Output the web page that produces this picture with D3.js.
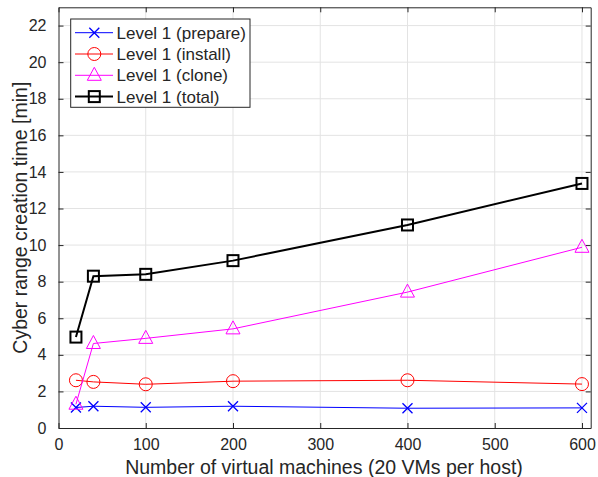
<!DOCTYPE html>
<html lang="en">
  <head>
    <script src="https://d3js.org/d3.v7.min.js"></script>
    <meta charset="utf-8">
    <style>
      body { margin: 0; background: #fff; }
      text { font-family: "Liberation Sans", Arial, sans-serif; fill: #262626; }
    </style>
  </head>
  <body>
    <svg id="chart" width="598" height="477"></svg>
  </body>
</html>

<script>
    // data
    const vms = [20, 40, 100, 200, 400, 600];
    const prepare = [1.12, 1.19, 1.13, 1.19, 1.08, 1.1];
    const install = [2.61, 2.52, 2.39, 2.56, 2.61, 2.4];
    const clone = [1.3, 4.62, 4.9, 5.42, 7.43, 9.88];
    const total = [4.97, 8.3, 8.4, 9.15, 11.1, 13.37];

    const xTicks = [0, 100, 200, 300, 400, 500, 600];
    const yTicks = [0, 2, 4, 6, 8, 10, 12, 14, 16, 18, 20, 22];

    const seriesList = [
        { name: "Level 1 (prepare)", values: prepare, color: "#0000ff", marker: "x", width: 1 },
        { name: "Level 1 (install)", values: install, color: "#ff0000", marker: "o", width: 1 },
        { name: "Level 1 (clone)", values: clone, color: "#ff00ff", marker: "^", width: 1 },
        { name: "Level 1 (total)", values: total, color: "#000000", marker: "s", width: 2 }
    ];

    const svg = d3.select("#chart");
    const mLeft = 58.5, mRight = 590.7, mTop = 7.3, mBottom = 428;

    const x = d3.scaleLinear().domain([0, 610]).range([mLeft, mRight]);
    const y = d3.scaleLinear().domain([0, 23]).range([mBottom, mTop]);

    // grid
    const grid = svg.append("g").attr("stroke", "#e3e3e3").attr("stroke-width", 1);
    grid.selectAll(".gx").data(xTicks.slice(1)).enter().append("line")
        .attr("x1", d => x(d)).attr("x2", d => x(d))
        .attr("y1", mTop).attr("y2", mBottom);
    grid.selectAll(".gy").data(yTicks.slice(1)).enter().append("line")
        .attr("x1", mLeft).attr("x2", mRight)
        .attr("y1", d => y(d)).attr("y2", d => y(d));

    // axes with inward ticks
    const fs = "16px";
    const xAxis = svg.append("g").attr("transform", `translate(0,${mBottom})`)
        .call(d3.axisBottom(x).tickValues(xTicks).tickSizeInner(-5).tickSizeOuter(0).tickPadding(11));
    const yAxis = svg.append("g").attr("transform", `translate(${mLeft},0)`)
        .call(d3.axisLeft(y).tickValues(yTicks).tickSizeInner(-5).tickSizeOuter(0).tickPadding(12));
    const xTop = svg.append("g").attr("transform", `translate(0,${mTop})`)
        .call(d3.axisTop(x).tickValues(xTicks).tickSizeInner(-5).tickSizeOuter(0).tickFormat(""));
    const yRight = svg.append("g").attr("transform", `translate(${mRight},0)`)
        .call(d3.axisRight(y).tickValues(yTicks).tickSizeInner(-5).tickSizeOuter(0).tickFormat(""));
    [xAxis, yAxis, xTop, yRight].forEach(a => {
        a.selectAll("path").attr("stroke", "#262626");
        a.selectAll("line").attr("stroke", "#262626");
        a.selectAll("text").attr("font-size", fs).attr("font-family", "Liberation Sans, Arial, sans-serif").attr("fill", "#262626");
    });

    // axis labels
    svg.append("text")
        .attr("x", 324).attr("y", 474)
        .attr("text-anchor", "middle").attr("font-size", "19.5px")
        .text("Number of virtual machines (20 VMs per host)");
    svg.append("text")
        .attr("transform", `translate(27,${(mTop + mBottom) / 2}) rotate(-90)`)
        .attr("text-anchor", "middle").attr("font-size", "19.5px")
        .text("Cyber range creation time [min]");

    function drawMarker(g, type, color, sw) {
        if (type === "x") {
            g.append("path").attr("d", "M-5,-5L5,5M-5,5L5,-5")
                .attr("stroke", color).attr("stroke-width", 1.3).attr("fill", "none");
        } else if (type === "o") {
            g.append("circle").attr("r", 6.5)
                .attr("stroke", color).attr("stroke-width", 1).attr("fill", "none");
        } else if (type === "^") {
            g.append("path").attr("d", "M0,-8L7,5L-7,5Z")
                .attr("stroke", color).attr("stroke-width", 1).attr("fill", "none");
        } else {
            g.append("rect").attr("x", -5.5).attr("y", -5.5).attr("width", 11).attr("height", 11)
                .attr("stroke", color).attr("stroke-width", sw).attr("fill", "none");
        }
    }

    const line = d3.line().x((d, i) => x(vms[i])).y(d => y(d));

    seriesList.forEach(s => {
        const g = svg.append("g");
        g.append("path").datum(s.values)
            .attr("d", line)
            .attr("fill", "none")
            .attr("stroke", s.color)
            .attr("stroke-width", s.width);
        s.values.forEach((v, i) => {
            const m = g.append("g").attr("transform", `translate(${x(vms[i])},${y(v)})`);
            drawMarker(m, s.marker, s.color, s.width);
        });
    });

    // legend
    const lg = svg.append("g");
    lg.append("rect").attr("x", 70.7).attr("y", 19).attr("width", 179.3).attr("height", 88.3)
        .attr("fill", "#fff").attr("stroke", "#262626").attr("stroke-width", 1);
    seriesList.forEach((s, i) => {
        const cy = 32.7 + i * 21.3;
        lg.append("line").attr("x1", 75).attr("x2", 113).attr("y1", cy).attr("y2", cy)
            .attr("stroke", s.color).attr("stroke-width", s.width);
        drawMarker(lg.append("g").attr("transform", `translate(94.3,${cy})`), s.marker, s.color, s.width);
        lg.append("text").attr("x", 116.5).attr("y", cy + 6)
            .attr("font-size", "17px").attr("fill", "#000")
            .text(s.name);
    });
</script>
